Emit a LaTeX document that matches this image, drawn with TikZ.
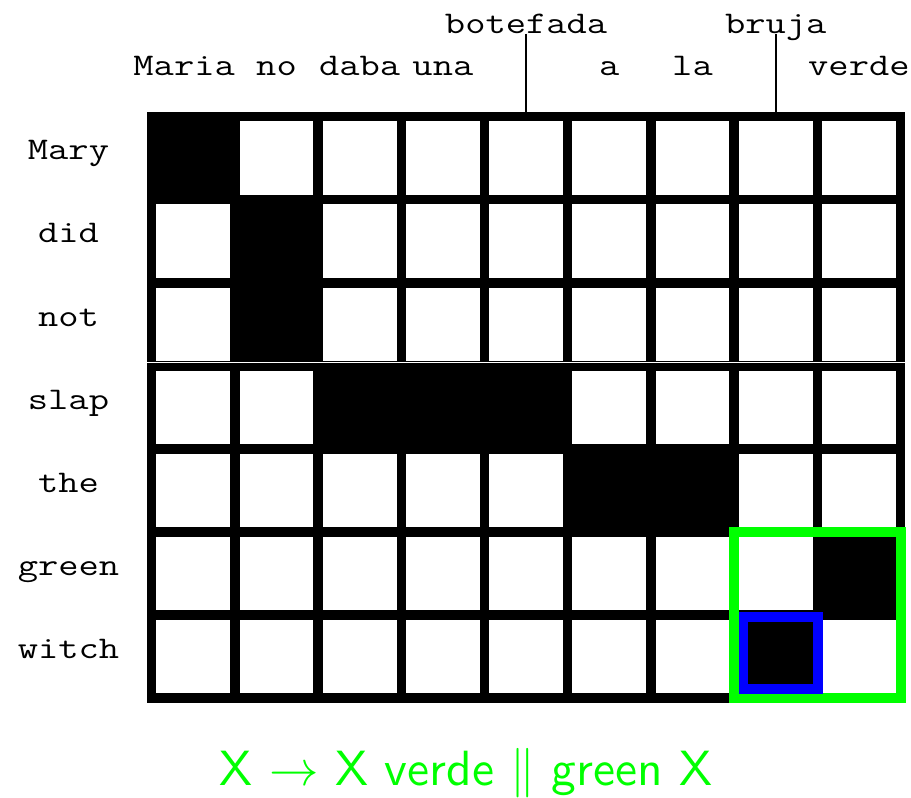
\documentclass[tikz,border=0pt]{standalone}
\usepackage{graphicx}
\usepackage{xcolor}
\usepackage{tikz}
\usetikzlibrary{positioning}
\definecolor{boxgreen}{rgb}{0,1,0}
\definecolor{boxblue}{rgb}{0,0,1}
\newcommand{\wrd}[1]{\scalebox{1.25}[1]{\fontsize{31.5}{36}\selectfont\ttfamily #1}}

\begin{document}
\begin{tikzpicture}[x=83.2pt,y=-83.07pt,
  wrd/.style={anchor=base,inner sep=0pt},
  gridline/.style={line width=9.4pt,line cap=rect}]
  \useasboundingbox (-151.7pt,116.7pt) rectangle (759.3pt,-681.3pt);
  % alignment matrix
  \foreach \c in {0,...,9} \draw[gridline] (\c,0) -- (\c,7);
  \foreach \r in {0,...,7} \draw[gridline] (0,\r) -- (9,\r);
  \foreach \c/\r in {1/1,2/2,2/3,3/4,4/4,5/4,6/5,7/5,9/6,8/7}
    \fill (\c-1,\r-1) rectangle (\c,\r);
  \draw[white,line width=0.9pt] ([xshift=-4.7pt]0,2.961) -- ([xshift=4.7pt]9,2.961);
  % spanish words
  \foreach \w/\x in {Maria/0.39,no/1.5,daba/2.5,una/3.5,a/5.5,la/6.5,verde/8.5}
    \node[wrd] (src-\w) at (\x,-0.5) {\wrd{\w}};
  \node[wrd] (src-botefada) at (4.5,-1) {\wrd{botefada}};
  \node[wrd] (src-bruja) at (7.5,-1) {\wrd{bruja}};
  \coordinate (col5) at (4.5,0);
  \coordinate (col8) at (7.5,0);
  \draw[line width=1.6pt] (src-botefada.base) -- (col5);
  \draw[line width=1.6pt] (src-bruja.base) -- (col8);
  % english words
  \foreach \w [count=\r] in {Mary,did,not,slap,the,green,witch}
    \node[wrd] (tgt-\w) at (-1,\r-0.48) {\wrd{\w}};
  % extracted rule
  \draw[boxgreen,line width=10pt] (7,5) rectangle (9,7);
  \draw[boxblue,line width=9.4pt] (7.112,6.023) rectangle (8.007,6.89);
  \node[anchor=base,inner sep=0pt,text=boxgreen,font=\fontsize{10}{12}\selectfont\sffamily]
    (rule) at (3.78,8.045) {\scalebox{4.95}{X $\rightarrow$ X verde $\|$ green X}};
\end{tikzpicture}
\end{document}
